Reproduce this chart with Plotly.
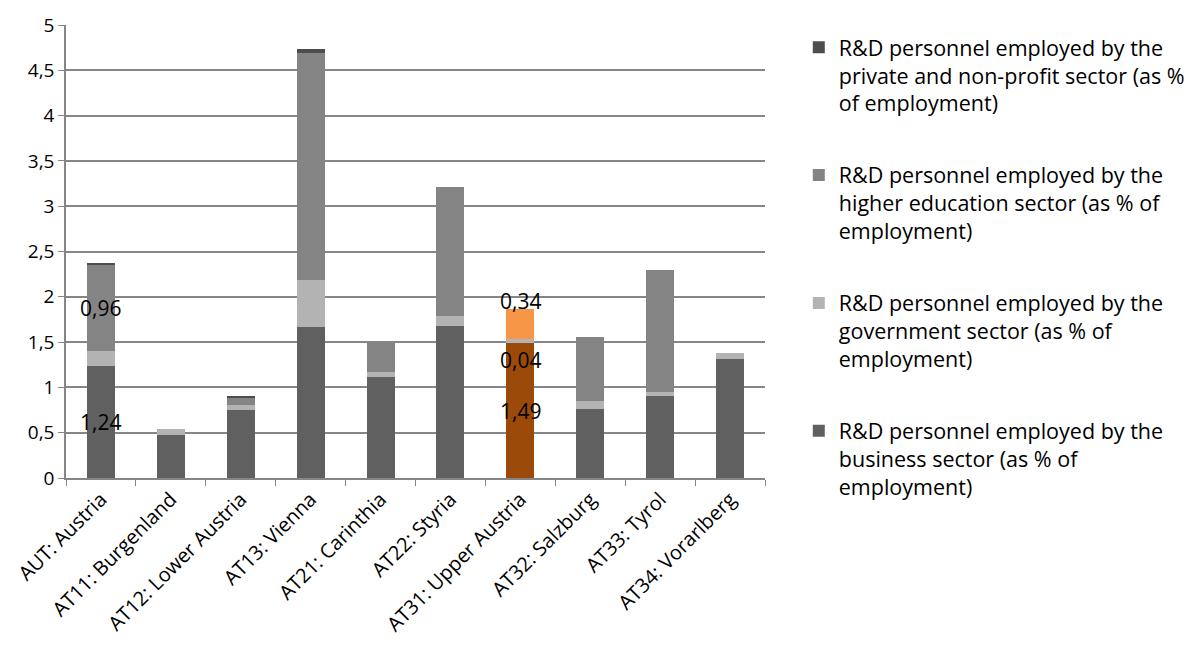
import plotly.graph_objects as go

categories = ["AUT: Austria", "AT11: Burgenland", "AT12: Lower Austria", "AT13: Vienna",
              "AT21: Carinthia", "AT22: Styria", "AT31: Upper Austria", "AT32: Salzburg",
              "AT33: Tyrol", "AT34: Vorarlberg"]
business = [1.24, 0.48, 0.75, 1.67, 1.12, 1.68, 1.49, 0.76, 0.90, 1.31]
government = [0.16, 0.06, 0.06, 0.51, 0.05, 0.11, 0.04, 0.09, 0.05, 0.07]
higher_ed = [0.96, 0.00, 0.07, 2.51, 0.32, 1.42, 0.34, 0.71, 1.35, 0.00]
private_np = [0.01, 0.00, 0.03, 0.05, 0.00, 0.00, 0.00, 0.00, 0.00, 0.00]

names = [
    "R&D personnel employed by the<br>private and non-profit sector (as %<br>of employment)",
    "R&D personnel employed by the<br>higher education sector (as % of<br>employment)",
    "R&D personnel employed by the<br>government sector (as % of<br>employment)",
    "R&D personnel employed by the<br>business sector (as % of<br>employment)",
]

hl = categories.index("AT31: Upper Austria")

def colors(base, special):
    c = [base] * len(categories)
    c[hl] = special
    return c

FONT = "Open Sans"
fig = go.Figure()
fig.add_trace(go.Bar(x=categories, y=business, name=names[3], legendrank=4, legendgroup="d",
                     marker=dict(color=colors("#606060", "#9C4A0A"), line=dict(width=0))))
fig.add_trace(go.Bar(x=categories, y=government, name=names[2], legendrank=3, legendgroup="c",
                     marker=dict(color=colors("#B3B3B3", "#B3B3B3"), line=dict(width=0))))
fig.add_trace(go.Bar(x=categories, y=higher_ed, name=names[1], legendrank=2, legendgroup="b",
                     marker=dict(color=colors("#848484", "#F79646"), line=dict(width=0))))
fig.add_trace(go.Bar(x=categories, y=private_np, name=names[0], legendrank=1, legendgroup="a",
                     marker=dict(color=colors("#4D4D4D", "#4D4D4D"), line=dict(width=0))))

def fmt(v):
    return f"{v:.2f}".replace(".", ",")

ann = []
i = 0
ann.append(dict(x=categories[i], y=business[i] / 2, text=fmt(business[i]), showarrow=False))
ann.append(dict(x=categories[i], y=business[i] + government[i] + higher_ed[i] / 2,
                text=fmt(higher_ed[i]), showarrow=False))
i = hl
ann.append(dict(x=categories[i], y=business[i] / 2, text=fmt(business[i]), showarrow=False))
ann.append(dict(x=categories[i], y=business[i] + government[i] / 2, text=fmt(government[i]),
                showarrow=False, yshift=-19))
ann.append(dict(x=categories[i], y=business[i] + government[i] + higher_ed[i] / 2,
                text=fmt(higher_ed[i]), showarrow=False, yshift=23))
for a in ann:
    a["font"] = dict(family=FONT, size=21, color="black")

fig.update_layout(
    barmode="stack",
    bargap=0.6,
    width=1203, height=668,
    margin=dict(l=60, r=438, t=13, b=190),
    paper_bgcolor="white", plot_bgcolor="white",
    separators=",.",
    font=dict(family=FONT, size=19, color="black"),
    annotations=ann,
    legend=dict(xref="container", yref="container", x=0.664, y=0.96,
                xanchor="left", yanchor="top", valign="top",
                font=dict(family=FONT, size=21.5, color="black"),
                tracegroupgap=41, itemwidth=30, traceorder="grouped", maxheight=660),
    xaxis=dict(showline=True, linecolor="#868686", linewidth=1.5, ticks="outside",
               tickson="boundaries", tickcolor="#868686", ticklen=6, tickangle=-45,
               tickfont=dict(family=FONT, size=20)),
    yaxis=dict(range=[0, 5], dtick=0.5, showgrid=True, gridcolor="#868686", gridwidth=1.5,
               showline=True, linecolor="#868686", linewidth=1.5, ticks="outside",
               tickcolor="#868686", ticklen=6, zeroline=False, ticklabeloverflow="allow",
               tickfont=dict(family=FONT, size=19)),
)

fig.write_html("out.html", config={"displayModeBar": False},
               post_script="document.body.style.margin='0';")
